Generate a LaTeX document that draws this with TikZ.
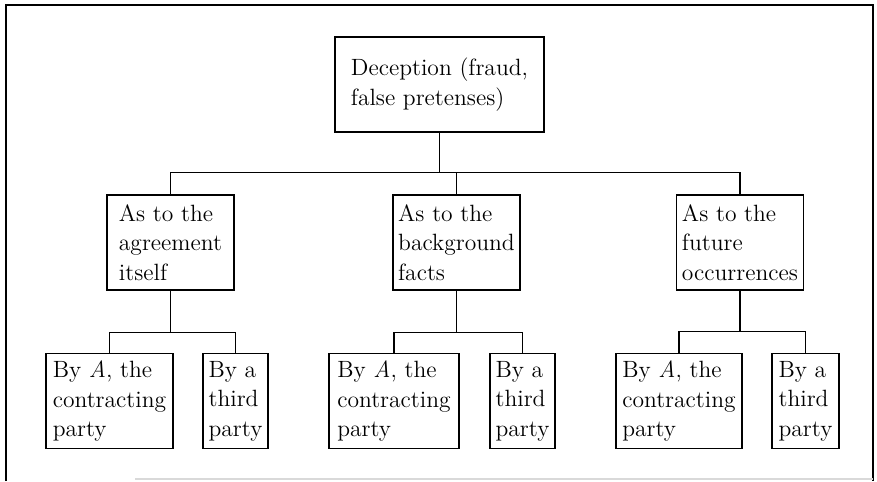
\documentclass[tikz,border=0pt]{standalone}
\usepackage{fontspec}
\begin{document}
\begin{tikzpicture}[x=0.02cm, y=-0.02cm,
    box/.style={draw, line width=0.7pt, align=left, inner sep=2pt,
        minimum height=1.9cm, font=\fontsize{13.4}{16.8}\selectfont},
    link/.style={line width=0.7pt}]

    \useasboundingbox (0,0) rectangle (877,481);

    % outer frame (bottom edge only faintly printed)
    \draw[line width=1.1pt] (6,481) -- (6,5) -- (873,5) -- (873,481);
    \draw[black!15, line width=1pt] (135,479) -- (873,479);

    % top level
    \node[box, minimum width=4.18cm] (deception) at (439.5,84.5) {Deception (fraud,\\false pretenses)};

    % second level
    \node[box, minimum width=2.54cm] (agreement) at (170.5,242.5) {As to the\\agreement\\itself};
    \node[box, minimum width=2.54cm] (background) at (456.5,242.5) {As to the\\background\\facts};
    \node[box, minimum width=2.54cm] (future) at (740,242.5) {As to the\\future\\occurrences};

    % third level
    \node[box, minimum width=2.54cm] (partyA1) at (109.5,401) {By \emph{A}, the\\contracting\\party};
    \node[box, minimum width=1.3cm] (third1) at (235.5,401) {By a\\third\\party};
    \node[box, minimum width=2.6cm] (partyA2) at (394,401) {By \emph{A}, the\\contracting\\party};
    \node[box, minimum width=1.3cm] (third2) at (522.5,401) {By a\\third\\party};
    \node[box, minimum width=2.52cm] (partyA3) at (679,401) {By \emph{A}, the\\contracting\\party};
    \node[box, minimum width=1.34cm] (third3) at (805.5,401) {By a\\third\\party};

    % connectors
    \path (deception.south) ++(0,40) coordinate (j0);
    \draw[link] (deception.south) -- (j0);
    \draw[link] (agreement.north) |- (j0) -| (future.north);
    \draw[link] (background.north) -- (background.north |- j0);

    \path (agreement.south) ++(0,42) coordinate (j1);
    \draw[link] (agreement.south) -- (j1);
    \draw[link] (partyA1.north) |- (j1) -| (third1.north);

    \path (background.south) ++(0,42) coordinate (j2);
    \draw[link] (background.south) -- (j2);
    \draw[link] (partyA2.north) |- (j2) -| (third2.north);

    \path (future.south) ++(0,41) coordinate (j3);
    \draw[link] (future.south) -- (j3);
    \draw[link] (partyA3.north) |- (j3) -| (third3.north);

\end{tikzpicture}
\end{document}
